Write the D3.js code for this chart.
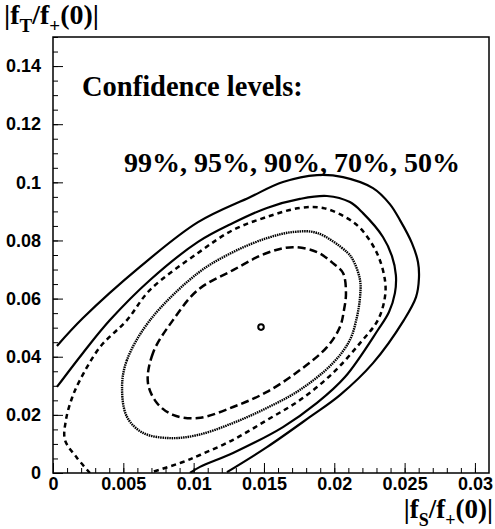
<!DOCTYPE html>
<html>
<head>
<meta charset="utf-8">
<script src="https://cdn.jsdelivr.net/npm/d3@7"></script>
<style>
  body { margin: 0; background: #fff; }
  svg { display: block; }
  .tick text { font-family: "Liberation Sans", Arial, sans-serif; font-weight: bold; font-size: 18px; }
  .ttl { font-family: "Liberation Serif", "Times New Roman", serif; font-weight: bold; }
</style>
</head>
<body>
<svg width="495" height="529"></svg>
<script>
// contour points: [ |fS/f+(0)| , |fT/f+(0)| ]
var cl99 = [[0.00028,0.0437],[0.00213,0.0533],[0.00618,0.0709],[0.01031,0.0863],[0.0140,0.0949],
  [0.01635,0.1001],[0.01877,0.1025],[0.02062,0.1018],[0.02275,0.0980],[0.02395,0.0925],[0.02467,0.0870],
  [0.02552,0.0791],[0.02595,0.0726],[0.02602,0.0671],[0.02581,0.0605],[0.02495,0.0526],
  [0.02275,0.0378],[0.0204,0.0268],[0.01827,0.0193],[0.01521,0.0089],[0.01237,0.0003]];
var cl95 = [[0.00028,0.0296],[0.00213,0.0413],[0.00405,0.0526],[0.0069,0.0664],[0.01031,0.0795],
  [0.0128,0.0860],[0.01521,0.0912],[0.01756,0.0943],[0.01948,0.0953],[0.02111,0.0932],
  [0.02204,0.0894],[0.02346,0.0812],[0.0241,0.0746],[0.02438,0.0681],[0.02431,0.0619],
  [0.02389,0.0554],[0.0231,0.0492],[0.02076,0.0330],[0.01877,0.0241],[0.01635,0.0158],
  [0.0128,0.0069],[0.01045,0.0021],[0.00974,0.0]];
var cl90 = [[0.00263,0.0],[0.00171,0.0052],[0.00085,0.0114],[0.00092,0.0182],[0.00135,0.0258],
  [0.00192,0.0320],[0.00334,0.0433],[0.00526,0.0526],[0.0069,0.0630],[0.01031,0.0757],
  [0.0128,0.0836],[0.01521,0.0881],[0.01756,0.0912],[0.01919,0.0912],[0.02076,0.0881],
  [0.02183,0.0843],[0.02303,0.0757],[0.0236,0.0664],[0.0236,0.0605],[0.0231,0.0526],
  [0.02183,0.0447],[0.0199,0.0344],[0.01756,0.0251],[0.01521,0.0182],[0.0128,0.0114],
  [0.01045,0.0062],[0.00924,0.0038],[0.00704,0.0003]];
var cl70 = [[0.0069,0.0526],[0.00526,0.0389],[0.00491,0.0296],[0.00526,0.0193],[0.0064,0.0138],
  [0.00832,0.0120],[0.01031,0.0131],[0.0128,0.0172],[0.01521,0.0224],[0.01756,0.0286],
  [0.0199,0.0378],[0.02111,0.0458],[0.02161,0.0537],[0.02183,0.0605],[0.02183,0.0664],
  [0.02133,0.0733],[0.0209,0.0760],[0.01877,0.0826],[0.01706,0.0829],[0.01521,0.0808],
  [0.0128,0.0760],[0.01031,0.0688]];
var cl50 = [[0.00853,0.0526],[0.00711,0.0413],[0.00675,0.0310],[0.00739,0.0241],[0.00853,0.0200],
  [0.01031,0.0189],[0.0128,0.0227],[0.01521,0.0279],[0.01756,0.0354],[0.01948,0.0433],
  [0.0204,0.0502],[0.02069,0.0561],[0.02083,0.0619],[0.02062,0.0688],[0.0199,0.0722],
  [0.01877,0.0760],[0.01706,0.0777],[0.01521,0.0757],[0.0128,0.0698],[0.01031,0.0630]];
var best = [0.01479, 0.0502];

var xTicks = [0, 0.005, 0.01, 0.015, 0.02, 0.025, 0.03];
var xTickLabels = ["0", "0.005", "0.01", "0.015", "0.02", "0.025", "0.03"];
var yTicks = [0, 0.02, 0.04, 0.06, 0.08, 0.1, 0.12, 0.14];
var yTickLabels = ["0", "0.02", "0.04", "0.06", "0.08", "0.1", "0.12", "0.14"];

var svg = d3.select("svg"),
    pl = 53, pr = 489, pt = 37, pb = 473;

var x = d3.scaleLinear().domain([0, 0.031]).range([pl, pr]);
var y = d3.scaleLinear().domain([0, 0.15]).range([pb, pt]);

svg.append("clipPath").attr("id", "clip")
  .append("rect").attr("x", pl).attr("y", pt)
  .attr("width", pr - pl).attr("height", pb - pt);

// minor ticks
var xMinor = d3.range(0, 0.0305, 0.001);
var yMinor = d3.range(0, 0.1505, 0.005);
svg.append("g").attr("transform", "translate(0," + pb + ")")
  .call(d3.axisBottom(x).tickValues(xMinor).tickFormat("").tickSize(-5))
  .call(function(g) { g.select(".domain").remove(); });
svg.append("g").attr("transform", "translate(" + pl + ",0)")
  .call(d3.axisLeft(y).tickValues(yMinor).tickFormat("").tickSize(-5))
  .call(function(g) { g.select(".domain").remove(); });

// major ticks + labels
svg.append("g").attr("transform", "translate(0," + pb + ")")
  .call(d3.axisBottom(x).tickValues(xTicks)
    .tickFormat(function(d, i) { return xTickLabels[i]; })
    .tickSizeInner(-10).tickSizeOuter(0))
  .call(function(g) {
    g.select(".domain").remove();
    g.selectAll(".tick text").attr("fill", "#000").attr("dy", "0.72em").attr("y", 4);
  });
svg.append("g").attr("transform", "translate(" + pl + ",0)")
  .call(d3.axisLeft(y).tickValues(yTicks)
    .tickFormat(function(d, i) { return yTickLabels[i]; })
    .tickSizeInner(-10).tickSizeOuter(0).tickPadding(12))
  .call(function(g) {
    g.select(".domain").remove();
    g.selectAll(".tick text").attr("fill", "#000");
  });
svg.selectAll(".tick line").attr("stroke", "#000").attr("stroke-width", 1);

// frame
svg.append("rect")
  .attr("x", pl).attr("y", pt)
  .attr("width", pr - pl).attr("height", pb - pt)
  .attr("fill", "none").attr("stroke", "#000").attr("stroke-width", 1.5);

var openLine = d3.line().x(function(d) { return x(d[0]); }).y(function(d) { return y(d[1]); })
  .curve(d3.curveCatmullRom);
var closedLine = d3.line().x(function(d) { return x(d[0]); }).y(function(d) { return y(d[1]); })
  .curve(d3.curveCatmullRomClosed);

var plot = svg.append("g").attr("clip-path", "url(#clip)");

var contours = [
  {pts: cl99, closed: false, dash: null, w: 2.2},
  {pts: cl95, closed: false, dash: null, w: 2.2},
  {pts: cl90, closed: false, dash: "5,4", w: 2.5},
  {pts: cl70, closed: true, dash: "1.5,0.8", w: 2.4},
  {pts: cl50, closed: true, dash: "8,4", w: 2.5}
];

plot.selectAll("path.cl")
  .data(contours)
  .enter()
  .append("path")
  .attr("class", "cl")
  .attr("d", function(d) { return d.closed ? closedLine(d.pts) : openLine(d.pts); })
  .attr("fill", "none")
  .attr("stroke", "#000")
  .attr("stroke-width", function(d) { return d.w; })
  .attr("stroke-dasharray", function(d) { return d.dash; });

plot.append("circle")
  .attr("cx", x(best[0])).attr("cy", y(best[1])).attr("r", 2.8)
  .attr("fill", "none").attr("stroke", "#000").attr("stroke-width", 2);

// titles
var yt = svg.append("text").attr("class", "ttl").attr("x", 4).attr("y", 24).attr("font-size", 28);
yt.append("tspan").text("|f");
yt.append("tspan").attr("font-size", 19).attr("dy", 8).text("T");
yt.append("tspan").attr("dy", -8).text("/f");
yt.append("tspan").attr("font-size", 19).attr("dy", 8).text("+");
yt.append("tspan").attr("dy", -8).text("(0)|");

var xt = svg.append("text").attr("class", "ttl").attr("x", 493).attr("y", 518)
  .attr("font-size", 27).attr("text-anchor", "end");
xt.append("tspan").text("|f");
xt.append("tspan").attr("font-size", 18).attr("dy", 8).text("S");
xt.append("tspan").attr("dy", -8).text("/f");
xt.append("tspan").attr("font-size", 18).attr("dy", 8).text("+");
xt.append("tspan").attr("dy", -8).text("(0)|");

svg.append("text").attr("class", "ttl").attr("x", 82).attr("y", 96)
  .attr("font-size", 28.5).text("Confidence levels:");
svg.append("text").attr("class", "ttl").attr("x", 124).attr("y", 172)
  .attr("font-size", 28).text("99%, 95%, 90%, 70%, 50%");
</script>
</body>
</html>
